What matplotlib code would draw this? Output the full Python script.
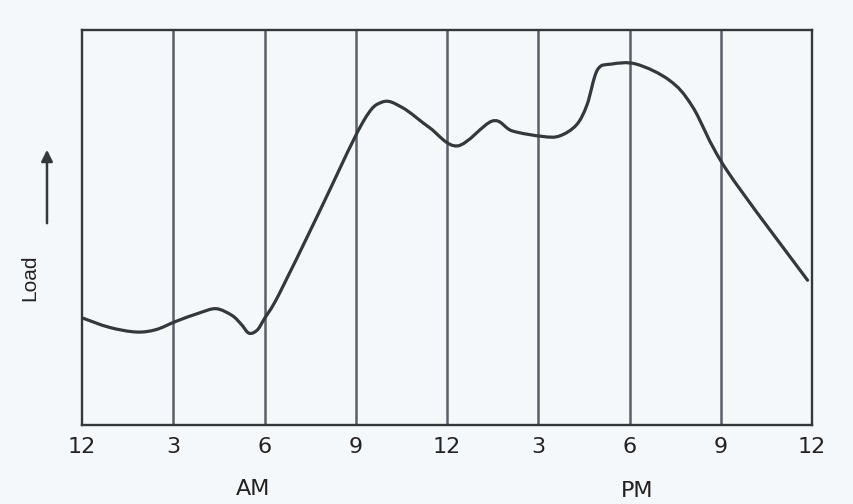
import matplotlib
matplotlib.use("Agg")
import matplotlib.pyplot as plt
import numpy as np
from matplotlib.path import Path
from matplotlib.patches import PathPatch, FancyArrowPatch

# Daily load curve: hour of day (0-24) and relative load
hours = [0.0, 0.89, 1.78, 2.43, 3.09, 3.85, 4.41, 4.93, 5.23, 5.49, 5.76, 5.99,
         6.48, 7.8, 9.21, 9.87, 10.53, 11.41, 12.34, 13.49, 14.14, 15.13, 15.69,
         16.25, 16.6, 16.94, 17.4, 18.22, 19.31, 20.07, 21.18, 23.85]
load = [27.1, 24.7, 23.5, 24.1, 26.2, 28.3, 29.4, 27.7, 25.5, 23.2, 24.0, 26.8,
        33.1, 53.9, 76.3, 81.7, 80.3, 75.3, 70.6, 76.9, 74.4, 73.0, 73.1,
        75.9, 81.0, 89.8, 91.3, 91.3, 87.2, 80.5, 64.6, 36.6]

tick_hours = [0, 3, 6, 9, 12, 15, 18, 21, 24]
tick_labels = ["12", "3", "6", "9", "12", "3", "6", "9", "12"]

bg = "#f5f8fb"
ink = "#33383d"
grid_ink = "#5b6066"
text_ink = "#222222"
FONT = "DejaVu Sans"


def smooth_path(xs, ys):
    """Catmull-Rom curve through the points, expressed as cubic Bezier segments."""
    pts = np.column_stack([xs, ys]).astype(float)
    n = len(pts)
    verts = [pts[0]]
    codes = [Path.MOVETO]
    for i in range(n - 1):
        p0 = pts[i - 1] if i > 0 else pts[i]
        p1, p2 = pts[i], pts[i + 1]
        p3 = pts[i + 2] if i + 2 < n else pts[i + 1]
        verts += [p1 + (p2 - p0) / 6.0, p2 - (p3 - p1) / 6.0, p2]
        codes += [Path.CURVE4] * 3
    return Path(verts, codes)


fig = plt.figure(figsize=(8.54, 5.04), dpi=100, facecolor=bg)
ax = fig.add_axes([0.096, 0.157, 0.855, 0.784], facecolor=bg)

for h in tick_hours[1:-1]:
    ax.axvline(h, color=grid_ink, lw=1.8, zorder=1)

ax.add_patch(PathPatch(smooth_path(hours, load), fill=False, edgecolor=ink,
                       lw=2.3, capstyle="round", joinstyle="round", zorder=3))

ax.set_xlim(0, 24)
ax.set_ylim(0, 100)
ax.set_xticks(tick_hours)
ax.set_xticklabels(tick_labels, fontsize=16, color=text_ink, family=FONT)
ax.tick_params(axis="x", length=0, pad=9)
ax.set_yticks([])
for s in ax.spines.values():
    s.set_color(ink)
    s.set_linewidth(1.7)

fig.text(253 / 854, 1 - 489 / 504, "AM", fontsize=16, color=text_ink,
         family=FONT, ha="center", va="center")
fig.text(637 / 854, 1 - 491 / 504, "PM", fontsize=16, color=text_ink,
         family=FONT, ha="center", va="center")
fig.text(30 / 854, 1 - 278 / 504, "Load", fontsize=15, color=text_ink,
         family="Liberation Sans", rotation=90, ha="center", va="center")
fig.patches.append(FancyArrowPatch(
    (47 / 854, 1 - 226 / 504), (47 / 854, 1 - 147 / 504),
    transform=fig.transFigure, arrowstyle="-|>", mutation_scale=17,
    color=ink, lw=1.8))

fig.savefig("out.png", dpi=100, facecolor=bg)
